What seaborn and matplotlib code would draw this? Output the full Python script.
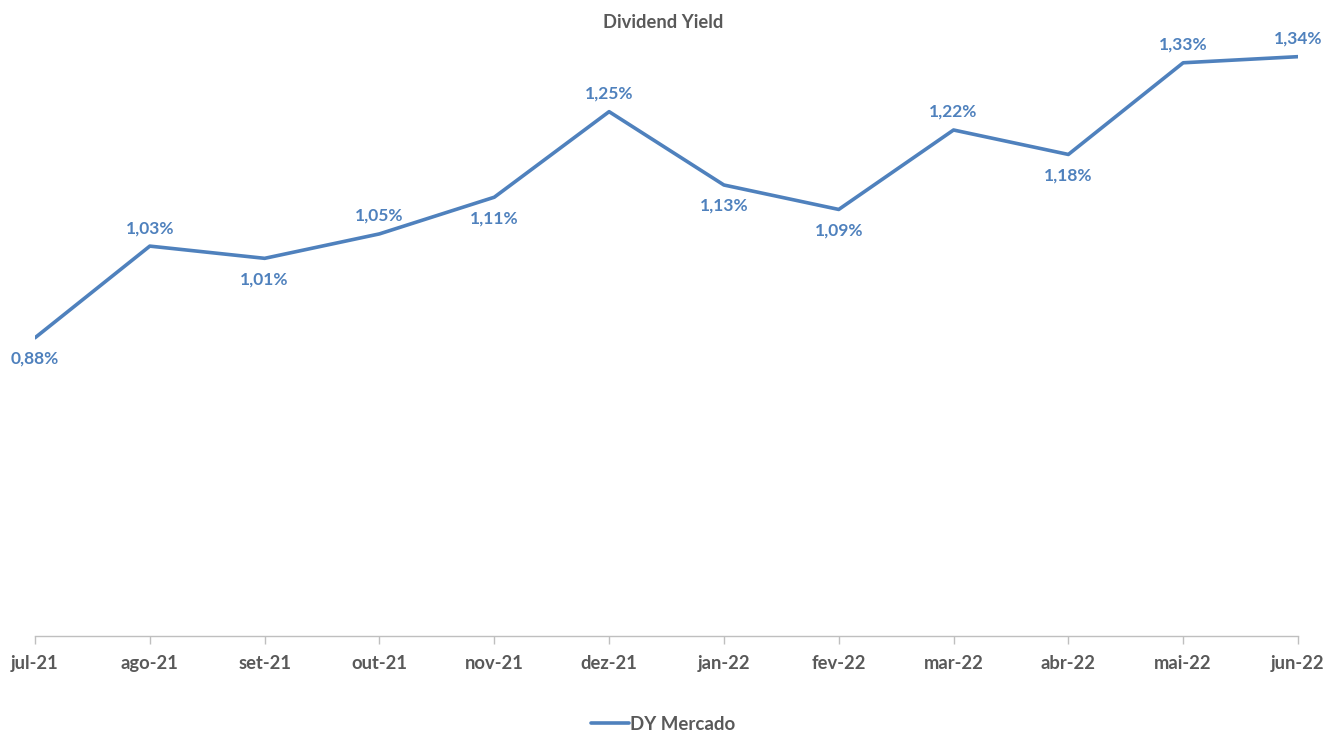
import matplotlib
matplotlib.use('Agg')
import matplotlib.pyplot as plt
import seaborn as sns
import pandas as pd

# Data
months = ['jul-21', 'ago-21', 'set-21', 'out-21', 'nov-21', 'dez-21',
          'jan-22', 'fev-22', 'mar-22', 'abr-22', 'mai-22', 'jun-22']
dy_mercado = [0.88, 1.03, 1.01, 1.05, 1.11, 1.25, 1.13, 1.09, 1.22, 1.18, 1.33, 1.34]
label_above = [False, True, False, True, False, True, False, False, True, False, True, True]

df = pd.DataFrame({'Mes': months, 'DY Mercado': dy_mercado})
df['pos'] = range(len(df))

sns.set_theme(style='white')
plt.rcParams['font.family'] = ['Lato', 'DejaVu Sans']

blue = '#4F81BD'
gray = '#595959'

fig = plt.figure(figsize=(13.27, 7.33), dpi=100)
ax = fig.add_axes([35 / 1327, (733 - 636) / 733, (1298 - 35) / 1327, (636 - 20) / 733])

sns.lineplot(data=df, x='pos', y='DY Mercado', ax=ax, color=blue, linewidth=2.6,
             label='DY Mercado', legend=False)

# Data labels, alternating above / below the line
for i, row in df.iterrows():
    above = label_above[i]
    ax.annotate(f"{row['DY Mercado']:.2f}%".replace('.', ','),
                (row['pos'], row['DY Mercado']),
                xytext=(0, 13 if above else -15), textcoords='offset points',
                ha='center', va='center', fontsize=12.5, fontweight='bold', color=blue,
                annotation_clip=False)

ax.set_xlim(0, len(months) - 1)
ax.set_ylim(0.392, 1.40)
ax.set_xticks(df['pos'])
ax.set_xticklabels(months, fontsize=13.2, fontweight='bold', color=gray)
ax.set_yticks([])
ax.set_xlabel('')
ax.set_ylabel('')

for side in ['top', 'right', 'left']:
    ax.spines[side].set_visible(False)
ax.spines['bottom'].set_color('#BFBFBF')
ax.spines['bottom'].set_linewidth(1.0)
ax.tick_params(axis='x', bottom=True, length=6, width=1.0, color='#BFBFBF', pad=8)

fig.text(0.5, 1 - 23 / 733, 'Dividend Yield', ha='center', va='center',
         fontsize=13.2, fontweight='bold', color=gray)

handles, labels = ax.get_legend_handles_labels()
leg = fig.legend(handles, labels, loc='center', bbox_to_anchor=(0.5, 1 - 724 / 733),
                 frameon=False, prop={'size': 13.4, 'weight': 'bold'},
                 handlelength=2.0, handletextpad=0.1)
for t in leg.get_texts():
    t.set_color(gray)

fig.savefig('out.png', dpi=100)
